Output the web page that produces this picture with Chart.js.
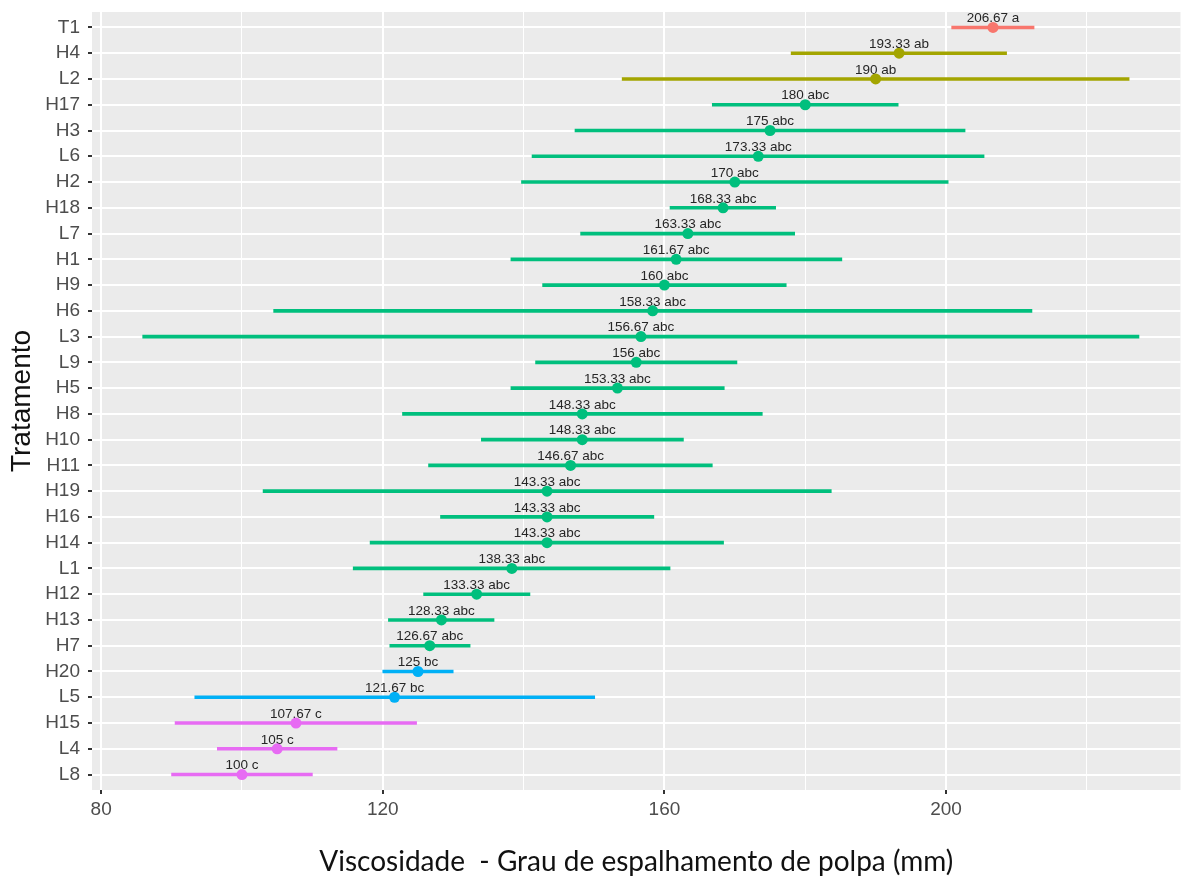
<!DOCTYPE html>
<html>
<head>
<meta charset="utf-8">
<script src="https://cdn.jsdelivr.net/npm/chart.js@4"></script>
<style>
  body { margin: 0; background: #fff; }
  #wrap { width: 1186px; height: 877px; }
</style>
</head>
<body>
<div id="wrap"><canvas id="chart"></canvas></div>
<script>
// data (top to bottom)
const treatments = ['T1', 'H4', 'L2', 'H17', 'H3', 'L6', 'H2', 'H18', 'L7', 'H1', 'H9', 'H6', 'L3', 'L9', 'H5',
  'H8', 'H10', 'H11', 'H19', 'H16', 'H14', 'L1', 'H12', 'H13', 'H7', 'H20', 'L5', 'H15', 'L4', 'L8'];
const means = [206.67, 193.33, 190, 180, 175, 173.33, 170, 168.33, 163.33, 161.67, 160, 158.33, 156.67, 156, 153.33,
  148.33, 148.33, 146.67, 143.33, 143.33, 143.33, 138.33, 133.33, 128.33, 126.67, 125, 121.67, 107.67, 105, 100];
const lower = [200.8, 178.0, 154.0, 166.8, 147.3, 141.2, 139.7, 160.8, 148.1, 138.2, 142.7, 104.5, 85.9, 141.7, 138.2,
  122.8, 134.0, 126.5, 103.0, 128.2, 118.2, 115.8, 125.8, 120.8, 121.0, 120.0, 93.3, 90.5, 96.5, 90.0];
const upper = [212.5, 208.6, 226.0, 193.2, 202.7, 205.4, 200.3, 175.8, 178.5, 185.2, 177.3, 212.2, 227.4, 170.3, 168.5,
  173.9, 162.7, 166.8, 183.7, 158.5, 168.4, 160.8, 140.9, 135.8, 132.4, 130.0, 150.1, 124.8, 113.5, 110.0];
const letters = ['a', 'ab', 'ab', 'abc', 'abc', 'abc', 'abc', 'abc', 'abc', 'abc', 'abc', 'abc', 'abc', 'abc', 'abc',
  'abc', 'abc', 'abc', 'abc', 'abc', 'abc', 'abc', 'abc', 'abc', 'abc', 'bc', 'bc', 'c', 'c', 'c'];
const xTicks = [80, 100, 120, 140, 160, 180, 200, 220];

const groupColor = { a: '#F8766D', ab: '#A3A500', abc: '#00BF7D', bc: '#00B0F6', c: '#E76BF3' };
const colors = letters.map(l => groupColor[l]);

const panelBg = {
  id: 'panelBg',
  beforeDraw(chart) {
    const { ctx, chartArea: a } = chart;
    ctx.save();
    ctx.fillStyle = '#EBEBEB';
    ctx.fillRect(a.left, a.top, a.right - a.left, a.bottom - a.top);
    ctx.restore();
  }
};

// text labels drawn after error bars, before points
const meanLabels = {
  id: 'meanLabels',
  afterDatasetDraw(chart, args) {
    if (args.index !== 1) return;
    const ctx = chart.ctx;
    const xs = chart.scales.x, ys = chart.scales.y;
    ctx.save();
    ctx.font = '13.5px "Liberation Sans", Arial, sans-serif';
    ctx.fillStyle = '#262626';
    ctx.textAlign = 'center';
    ctx.textBaseline = 'middle';
    means.forEach((m, i) => {
      const txt = (Math.round(m * 100) / 100) + ' ' + letters[i];
      ctx.fillText(txt, xs.getPixelForValue(m), ys.getPixelForValue(i) - 9);
    });
    ctx.restore();
  }
};

new Chart(document.getElementById('chart'), {
  type: 'bar',
  data: {
    datasets: [
      {
        type: 'scatter',
        data: means.map((m, i) => ({ x: m, y: i })),
        backgroundColor: colors,
        borderColor: colors,
        pointRadius: 5.5,
        pointHoverRadius: 5.5,
        borderWidth: 0
      },
      {
        type: 'bar',
        data: lower.map((lo, i) => ({ x: [lo, upper[i]], y: i })),
        backgroundColor: colors,
        borderWidth: 0,
        barThickness: 3,
        borderSkipped: false
      }
    ]
  },
  plugins: [panelBg, meanLabels],
  options: {
    indexAxis: 'y',
    responsive: true,
    maintainAspectRatio: false,
    animation: false,
    layout: { padding: { top: 12, right: -7, left: 0, bottom: 0 } },
    plugins: { legend: { display: false }, tooltip: { enabled: false } },
    scales: {
      x: {
        type: 'linear',
        min: 78.7,
        max: 233.3,
        afterBuildTicks(scale) { scale.ticks = xTicks.map(v => ({ value: v })); },
        afterFit(scale) { scale.height = 87; scale.paddingLeft = 0; scale.paddingRight = 0; },
        border: { display: false },
        grid: {
          color: '#FFFFFF',
          lineWidth: c => (c.tick && c.tick.value % 40 === 0 ? 2 : 1),
          tickColor: c => (c.tick && c.tick.value % 40 === 0 ? '#333333' : 'rgba(0,0,0,0)'),
          tickLength: 4,
          tickWidth: 2
        },
        ticks: {
          autoSkip: false,
          maxRotation: 0,
          padding: 4,
          color: '#4D4D4D',
          font: { family: '"Liberation Sans", Arial, sans-serif', size: 19 },
          callback: v => (v % 40 === 0 ? String(v) : '')
        },
        title: {
          display: true,
          text: 'Viscosidade  - Grau de espalhamento de polpa (mm)',
          color: '#111111',
          font: { family: 'Lato, sans-serif', size: 28, lineHeight: 1 },
          padding: { top: 0, bottom: 1 }
        }
      },
      y: {
        type: 'linear',
        reverse: true,
        offset: false,
        min: -0.6,
        max: 29.6,
        afterBuildTicks(scale) { scale.ticks = treatments.map((_, i) => ({ value: i })); },
        afterFit(scale) { scale.width = 92; scale.paddingTop = 0; scale.paddingBottom = 0; },
        border: { display: false },
        grid: {
          offset: false,
          color: '#FFFFFF',
          lineWidth: 2,
          tickColor: '#333333',
          tickLength: 4,
          tickWidth: 2
        },
        ticks: {
          autoSkip: false,
          padding: 8,
          color: '#4D4D4D',
          font: { family: '"Liberation Sans", Arial, sans-serif', size: 19 },
          callback: v => treatments[v]
        },
        title: {
          display: true,
          text: 'Tratamento',
          color: '#111111',
          font: { family: '"Liberation Sans", Arial, sans-serif', size: 28, lineHeight: 1 },
          padding: { top: 8, bottom: 0 }
        }
      }
    }
  }
});
</script>
</body>
</html>
